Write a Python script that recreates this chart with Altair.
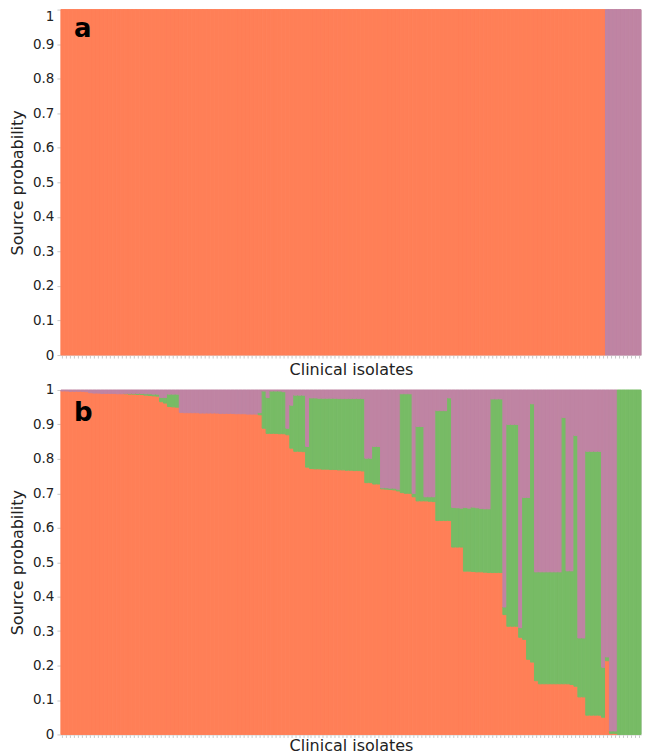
import altair as alt
import pandas as pd

SOURCES = ["Source 1", "Source 2", "Source 3"]
COLORS = ["#ff7f57", "#77bb65", "#bf84a3"]

# Panel a: top of orange share (cumulative) and top of green share (cumulative)
A_ORANGE = [1.0] * 138 + [0.0] * 9
A_GREEN = [1.0] * 138 + [0.0] * 9

# Panel b: cumulative boundaries (orange top, green top); purple fills the rest to 1
B_ORANGE = [
    0.997, 0.997, 0.996, 0.996, 0.996, 0.996, 0.995,
    0.992, 0.991, 0.991, 0.990, 0.990, 0.990, 0.990, 0.989, 0.989, 0.989, 0.988, 0.988, 0.987, 0.987,
    0.985, 0.984, 0.983, 0.982,
    0.966, 0.962,
    0.952, 0.951, 0.950,
    0.935, 0.934, 0.934, 0.934, 0.934, 0.933, 0.933, 0.933, 0.933, 0.933,
    0.932, 0.932, 0.932, 0.932, 0.931, 0.931, 0.931, 0.930, 0.930, 0.930,
    0.928,
    0.889,
    0.874,
    0.874, 0.874, 0.873, 0.873,
    0.870,
    0.831,
    0.822, 0.822, 0.821,
    0.776,
    0.772, 0.771, 0.771, 0.770, 0.770, 0.769, 0.769, 0.768, 0.768, 0.767, 0.767, 0.766, 0.766, 0.765,
    0.731, 0.731,
    0.727, 0.727,
    0.713, 0.712, 0.711, 0.710,
    0.707,
    0.702, 0.700, 0.700,
    0.690,
    0.678, 0.678,
    0.678, 0.677, 0.676,
    0.621, 0.621, 0.621,
    0.621,
    0.544, 0.544, 0.544,
    0.474, 0.474, 0.473, 0.472, 0.472, 0.471, 0.470,
    0.470, 0.470, 0.470,
    0.348,
    0.314, 0.314, 0.314,
    0.282,
    0.276, 0.218,
    0.210,
    0.156, 0.147, 0.147, 0.147, 0.147, 0.147, 0.147,
    0.147,
    0.147, 0.145,
    0.140,
    0.109, 0.109,
    0.056, 0.056, 0.056, 0.056,
    0.050,
    0.214,
    0.003, 0.003,
    0.0, 0.0, 0.0, 0.0, 0.0, 0.0,
]
B_GREEN = [
    0.997, 0.997, 0.996, 0.996, 0.996, 0.996, 0.995,
    0.992, 0.991, 0.991, 0.990, 0.990, 0.990, 0.990, 0.989, 0.989, 0.990, 0.990, 0.990, 0.990, 0.990,
    0.989, 0.989, 0.988, 0.988,
    0.978, 0.978,
    0.988, 0.988, 0.988,
    0.935, 0.934, 0.934, 0.934, 0.934, 0.933, 0.933, 0.933, 0.933, 0.933,
    0.932, 0.932, 0.932, 0.932, 0.931, 0.931, 0.931, 0.930, 0.930, 0.930,
    0.934,
    0.997,
    0.978,
    0.997, 0.997, 0.997, 0.995,
    0.889,
    0.956,
    0.985, 0.985, 0.985,
    0.836,
    0.977, 0.977, 0.976, 0.976, 0.976, 0.976, 0.976, 0.975, 0.975, 0.975, 0.975, 0.975, 0.975, 0.975,
    0.802, 0.802,
    0.836, 0.836,
    0.716, 0.716, 0.715, 0.715,
    0.712,
    0.989, 0.989, 0.989,
    0.700,
    0.894, 0.894,
    0.690, 0.690, 0.690,
    0.940, 0.940, 0.940,
    0.977,
    0.659, 0.658, 0.657,
    0.659, 0.657, 0.660, 0.658, 0.656, 0.655, 0.655,
    0.974, 0.974, 0.974,
    0.370,
    0.900, 0.900, 0.900,
    0.310,
    0.688, 0.688,
    0.960,
    0.472, 0.472, 0.472, 0.472, 0.472, 0.472, 0.472,
    0.920,
    0.475, 0.475,
    0.868,
    0.280, 0.280,
    0.822, 0.822, 0.822, 0.822,
    0.195,
    0.225,
    0.010, 0.010,
    1.0, 1.0, 1.0, 1.0, 1.0, 1.0,
]

Y_TICKS = [0, 0.1, 0.2, 0.3, 0.4, 0.5, 0.6, 0.7, 0.8, 0.9, 1]
FONT = "DejaVu Sans"
TEXT_COLOR = "#222222"


def build_frame(orange, green):
    rows = []
    for i, (o, g) in enumerate(zip(orange, green)):
        for src, lo, hi in ((SOURCES[0], 0.0, o), (SOURCES[1], o, g), (SOURCES[2], g, 1.0)):
            if hi - lo > 0:
                rows.append({"isolate": i, "source": src, "y0": lo, "y1": hi})
    return pd.DataFrame(rows)


def panel(df, letter, height, letter_y, x_title_pad, flush_top):
    color_scale = alt.Scale(domain=SOURCES, range=COLORS)
    if flush_top:
        label_baseline = {"condition": {"test": "datum.value == 1", "value": "top"}, "value": "middle"}
    else:
        label_baseline = "middle"
    bars = alt.Chart(df).mark_bar(strokeWidth=1).encode(
        x=alt.X(
            "isolate:O",
            scale=alt.Scale(paddingInner=0, paddingOuter=0),
            axis=alt.Axis(
                labels=False,
                tickSize=3,
                tickColor="#c8c8c8",
                domainColor="#dddddd",
                title="Clinical isolates",
                titleFontSize=16,
                titleFontWeight="normal",
                titleFont=FONT,
                titleColor=TEXT_COLOR,
                titlePadding=x_title_pad,
            ),
        ),
        y=alt.Y(
            "y0:Q",
            scale=alt.Scale(domain=[0, 1], nice=False),
            axis=alt.Axis(
                values=Y_TICKS,
                format="~g",
                grid=False,
                tickSize=4,
                tickColor="#c8c8c8",
                domainColor="#dddddd",
                labelFontSize=13.5,
                labelFont=FONT,
                labelColor=TEXT_COLOR,
                labelPadding=3,
                labelBaseline=label_baseline,
                title="Source probability",
                titleFontSize=16,
                titleFontWeight="normal",
                titleFont=FONT,
                titleColor=TEXT_COLOR,
                titlePadding=7.5,
            ),
        ),
        y2="y1:Q",
        color=alt.Color("source:N", scale=color_scale, legend=None),
        stroke=alt.Stroke("source:N", scale=color_scale, legend=None),
    )
    label = alt.Chart(pd.DataFrame({"t": [letter]})).mark_text(
        fontSize=26, fontWeight="bold", font=FONT, align="left",
        baseline="alphabetic", color="#000000",
    ).encode(text="t:N", x=alt.value(13), y=alt.value(letter_y))
    return alt.layer(bars, label).properties(width=581, height=height)


chart = alt.vconcat(
    panel(build_frame(A_ORANGE, A_GREEN), "a", 346, 27.5, 3, True),
    panel(build_frame(B_ORANGE, B_GREEN), "b", 345, 31, 0, False),
    spacing=4,
).properties(
    padding={"left": 0, "top": 0, "right": 0, "bottom": 0},
).configure_view(stroke="#dddddd")

chart.save("out.html", embed_options={"renderer": "svg", "actions": False})
